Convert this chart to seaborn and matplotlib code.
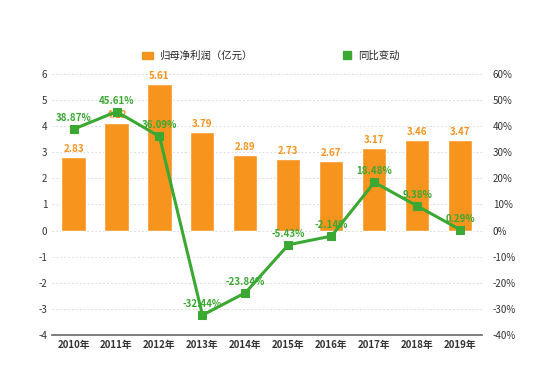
import matplotlib
matplotlib.use("Agg")
import matplotlib.pyplot as plt
import seaborn as sns
import pandas as pd
import numpy as np
from matplotlib.lines import Line2D
from matplotlib.patches import Patch

years = ["2010年", "2011年", "2012年", "2013年", "2014年", "2015年", "2016年", "2017年", "2018年", "2019年"]
profit = [2.83, 4.12, 5.61, 3.79, 2.89, 2.73, 2.67, 3.17, 3.46, 3.47]
yoy = [38.87, 45.61, 36.09, -32.44, -23.84, -5.43, -2.14, 18.48, 9.38, 0.29]
left_ticks = [-4, -3, -2, -1, 0, 1, 2, 3, 4, 5, 6]
right_ticks = [-40, -30, -20, -10, 0, 10, 20, 30, 40, 50, 60]

sns.set_theme(style="white")
plt.rcParams['font.family'] = ['Noto Sans CJK SC', 'DejaVu Sans']

ORANGE = "#f7941d"
GREEN = "#3aa832"

df = pd.DataFrame({"year": years, "profit": profit, "yoy": yoy, "x": np.arange(len(years))})

fig = plt.figure(figsize=(5.42, 3.84), dpi=100)
ax = fig.add_axes([0.096, 0.128, 0.793, 0.679])
sns.barplot(data=df, x="year", y="profit", color=ORANGE, saturation=1, width=0.56, ax=ax)
ax.set_ylim(-4, 6)
ax.set_xlim(-0.5, 9.5)
ax.set_yticks(left_ticks)
ax.set_yticklabels([str(t) for t in left_ticks])
ax.set_xlabel("")
ax.set_ylabel("")
for s in ["top", "right", "left"]:
    ax.spines[s].set_visible(False)
ax.spines["bottom"].set_position(("data", -4))
ax.spines["bottom"].set_color("#666666")
ax.spines["bottom"].set_linewidth(1.2)
ax.tick_params(axis="both", length=0, labelsize=7, colors="#333333")
for lbl in ax.get_xticklabels():
    lbl.set_fontweight("bold")
ax.grid(axis="y", color="#dddddd", linestyle=(0, (2, 2)), linewidth=0.7)
ax.set_axisbelow(True)
for i, v in enumerate(profit):
    ax.text(i, v + 0.12, f"{v:.2f}", ha="center", va="bottom", color=ORANGE, fontsize=7, fontweight="bold")

ax2 = ax.twinx()
sns.lineplot(data=df, x="x", y="yoy", color=GREEN, linewidth=2.2, marker="s", markersize=6,
             markeredgecolor=GREEN, ax=ax2)
ax2.set_ylim(-40, 60)
ax2.set_xlim(-0.5, 9.5)
ax2.set_yticks(right_ticks)
ax2.set_yticklabels([f"{t}%" for t in right_ticks])
ax2.set_xlabel("")
ax2.set_ylabel("")
for s in ["top", "right", "left", "bottom"]:
    ax2.spines[s].set_visible(False)
ax2.tick_params(axis="y", length=0, labelsize=7, colors="#333333", pad=8)
for i, v in enumerate(yoy):
    ax2.text(i, v + 2.3, f"{v:.2f}%", ha="center", va="bottom", color=GREEN, fontsize=7, fontweight="bold")

handles = [Patch(color=ORANGE), Line2D([], [], color=GREEN, marker="s", linestyle="", markersize=6)]
fig.legend(handles, ["归母净利润（亿元）", "同比变动"], loc="center", bbox_to_anchor=(0.5, 0.855),
           ncol=2, frameon=False, fontsize=7.5, columnspacing=8.6, handlelength=1, handletextpad=0.6)

fig.savefig("out.png", dpi=100)
